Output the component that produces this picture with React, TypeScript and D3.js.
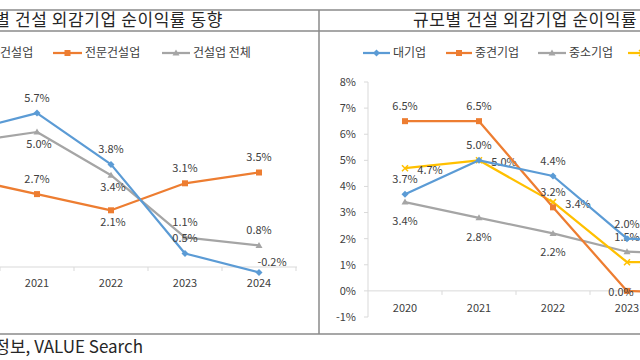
import React from 'react';
import * as d3 from 'd3';

// left: 업종별 (2020 is cut off at the left edge of the picture)
const leftYears = ['2020', '2021', '2022', '2023', '2024'];
const leftGeneral = [5.0, 5.7, 3.8, 0.5, -0.2]; // 종합건설업
const leftSpecial = [3.3, 2.7, 2.1, 3.1, 3.5]; // 전문건설업
const leftTotal = [4.6, 5.0, 3.4, 1.1, 0.8]; // 건설업 전체

// right: 규모별 (2024 is cut off at the right edge)
const rightYears = ['2020', '2021', '2022', '2023', '2024'];
const rightLarge = [3.7, 5.0, 4.4, 2.0, 1.9]; // 대기업
const rightMid = [6.5, 6.5, 3.2, 0.0, -0.1]; // 중견기업
const rightSmall = [3.4, 2.8, 2.2, 1.5, 1.4]; // 중소기업
const rightAll = [4.7, 5.0, 3.4, 1.1, 1.1]; // 전체
const rightTicks = [-1, 0, 1, 2, 3, 4, 5, 6, 7, 8];

const FONT = '"Noto Sans CJK KR", "Noto Sans", sans-serif';
const BLUE = '#5b9bd5';
const ORANGE = '#ed7d31';
const GRAY = '#a5a5a5';
const YELLOW = '#ffc000';
const LABEL = '#404040';

// scales
const xL = d3.scalePoint<string>().domain(leftYears).range([-37, 259]);
const yL = d3.scaleLinear().domain([-1, 7]).range([294, 78]);
const xR = d3.scalePoint<string>().domain(rightYears).range([405, 701]);
const yR = d3.scaleLinear().domain([-1, 8]).range([317, 82]);

const fmt = (v: number) => v.toFixed(1) + '%';

// label placement: a = above, b = below, bb = further below, r = right, l = left, ar = above right
const offs: Record<string, [number, number]> = {
  a: [0, -15],
  b: [2, 12],
  bb: [0, 19],
  r: [25, 2],
  l: [-6, 1],
  ar: [13, -10],
};

function Marker({ shape, x, y, color }: any) {
  if (shape === 'diamond') {
    return <path d={`M${x},${y - 3.5}L${x + 3.5},${y}L${x},${y + 3.5}L${x - 3.5},${y}Z`} fill={color} />;
  }
  if (shape === 'square') {
    return <rect x={x - 3} y={y - 3} width={6} height={6} fill={color} />;
  }
  if (shape === 'triangle') {
    return <path d={`M${x},${y - 3.5}L${x + 3.5},${y + 2.5}L${x - 3.5},${y + 2.5}Z`} fill={color} />;
  }
  return <path d={`M${x - 3},${y - 3}L${x + 3},${y + 3}M${x + 3},${y - 3}L${x - 3},${y + 3}`} stroke={color} strokeWidth={1.5} />;
}

function Series({ years, values, x, y, color, shape, pos }: any) {
  const line = d3
    .line<number>()
    .x((_, i) => x(years[i]))
    .y((d) => y(d));
  return (
    <g>
      <path d={line(values) || ''} fill="none" stroke={color} strokeWidth={2.25} strokeLinejoin="round" />
      {values.map((v: number, i: number) => (
        <Marker key={'m' + i} shape={shape} x={x(years[i])} y={y(v)} color={color} />
      ))}
      {values.map((v: number, i: number) => {
        const [dx, dy] = offs[pos[i]];
        return (
          <text
            key={'t' + i}
            x={x(years[i]) + dx}
            y={y(v) + dy}
            dy="0.35em"
            textAnchor="middle"
            fontSize={11}
            fill={LABEL}
          >
            {fmt(v)}
          </text>
        );
      })}
    </g>
  );
}

function LegendItem({ x1, x2, y, color, shape, label }: any) {
  return (
    <g>
      <line x1={x1} x2={x2} y1={y} y2={y} stroke={color} strokeWidth={2.25} />
      <Marker shape={shape} x={(x1 + x2) / 2} y={y} color={color} />
      <text x={x2 + 3} y={y} dy="0.36em" fontSize={12} fill={LABEL}>
        {label}
      </text>
    </g>
  );
}

export default function App() {
  const border = '#8a8a8a';
  return (
    <svg
      width={640}
      height={360}
      style={{ position: 'fixed', left: 0, top: 0, background: '#fff', fontFamily: FONT }}
    >
      <rect x={0} y={0} width={640} height={360} fill="#fff" />

      {/* table frame */}
      <line x1={-2} x2={642} y1={10} y2={10} stroke={border} strokeWidth={1.5} />
      <line x1={-2} x2={642} y1={31} y2={31} stroke={border} strokeWidth={1.5} />
      <line x1={-2} x2={642} y1={334} y2={334} stroke={border} strokeWidth={1.5} />
      <line x1={319} x2={319} y1={10} y2={334} stroke={border} strokeWidth={1.5} />

      {/* titles */}
      <text x={223} y={26} textAnchor="end" fontSize={17} letterSpacing={0.6} fill="#262626">
        업종별 건설 외감기업 순이익률 동향
      </text>
      <text x={413} y={26} fontSize={17} letterSpacing={0.6} fill="#262626">
        규모별 건설 외감기업 순이익률 동향
      </text>

      {/* left chart */}
      <g>
        <LegendItem x1={-54} x2={-25} y={53} color={BLUE} shape="diamond" label="종합건설업" />
        <LegendItem x1={53} x2={82} y={53} color={ORANGE} shape="square" label="전문건설업" />
        <LegendItem x1={162} x2={190} y={53} color={GRAY} shape="triangle" label="건설업 전체" />

        <line x1={-74} x2={297} y1={yL(0)} y2={yL(0)} stroke="#d9d9d9" strokeWidth={1} />
        {leftYears.map((yr) => (
          <line key={yr} x1={xL(yr)! + 37} x2={xL(yr)! + 37} y1={yL(0)} y2={yL(0) + 4} stroke="#d9d9d9" />
        ))}
        {leftYears.map((yr) => (
          <text key={yr} x={xL(yr)} y={yL(0) + 16} dy="0.35em" textAnchor="middle" fontSize={11} fill={LABEL}>
            {yr}
          </text>
        ))}

        <Series years={leftYears} values={leftTotal} x={xL} y={yL} color={GRAY} shape="triangle" pos={['b', 'b', 'b', 'a', 'a']} />
        <Series years={leftYears} values={leftSpecial} x={xL} y={yL} color={ORANGE} shape="square" pos={['a', 'a', 'b', 'a', 'a']} />
        <Series years={leftYears} values={leftGeneral} x={xL} y={yL} color={BLUE} shape="diamond" pos={['a', 'a', 'a', 'a', 'ar']} />
      </g>

      {/* right chart */}
      <g>
        <LegendItem x1={363} x2={390} y={53} color={BLUE} shape="diamond" label="대기업" />
        <LegendItem x1={446} x2={472} y={53} color={ORANGE} shape="square" label="중견기업" />
        <LegendItem x1={538} x2={566} y={53} color={GRAY} shape="triangle" label="중소기업" />
        <LegendItem x1={628} x2={656} y={53} color={YELLOW} shape="x" label="전체" />

        <line x1={368} x2={368} y1={yR(8)} y2={yR(-1)} stroke="#d9d9d9" />
        {rightTicks.map((t) => (
          <g key={t}>
            <line x1={364} x2={368} y1={yR(t)} y2={yR(t)} stroke="#d9d9d9" />
            <text x={356} y={yR(t)} dy="0.35em" textAnchor="end" fontSize={11} fill={LABEL}>
              {t + '%'}
            </text>
          </g>
        ))}
        <line x1={368} x2={645} y1={yR(0)} y2={yR(0)} stroke="#d9d9d9" />
        {rightYears.map((yr) => (
          <line key={yr} x1={xR(yr)! + 37} x2={xR(yr)! + 37} y1={yR(0)} y2={yR(0) + 4} stroke="#d9d9d9" />
        ))}
        {rightYears.map((yr) => (
          <text key={yr} x={xR(yr)} y={yR(0) + 17} dy="0.35em" textAnchor="middle" fontSize={11} fill={LABEL}>
            {yr}
          </text>
        ))}

        <Series years={rightYears} values={rightSmall} x={xR} y={yR} color={GRAY} shape="triangle" pos={['bb', 'bb', 'bb', 'a', 'a']} />
        <Series years={rightYears} values={rightAll} x={xR} y={yR} color={YELLOW} shape="x" pos={['r', 'r', 'r', 'r', 'r']} />
        <Series years={rightYears} values={rightMid} x={xR} y={yR} color={ORANGE} shape="square" pos={['a', 'a', 'a', 'l', 'a']} />
        <Series years={rightYears} values={rightLarge} x={xR} y={yR} color={BLUE} shape="diamond" pos={['a', 'a', 'a', 'a', 'a']} />
      </g>

      {/* source */}
      <text x={143} y={353} textAnchor="end" fontSize={17} fill="#262626">
        자료: 한국신용정보, VALUE Search
      </text>
    </svg>
  );
}
